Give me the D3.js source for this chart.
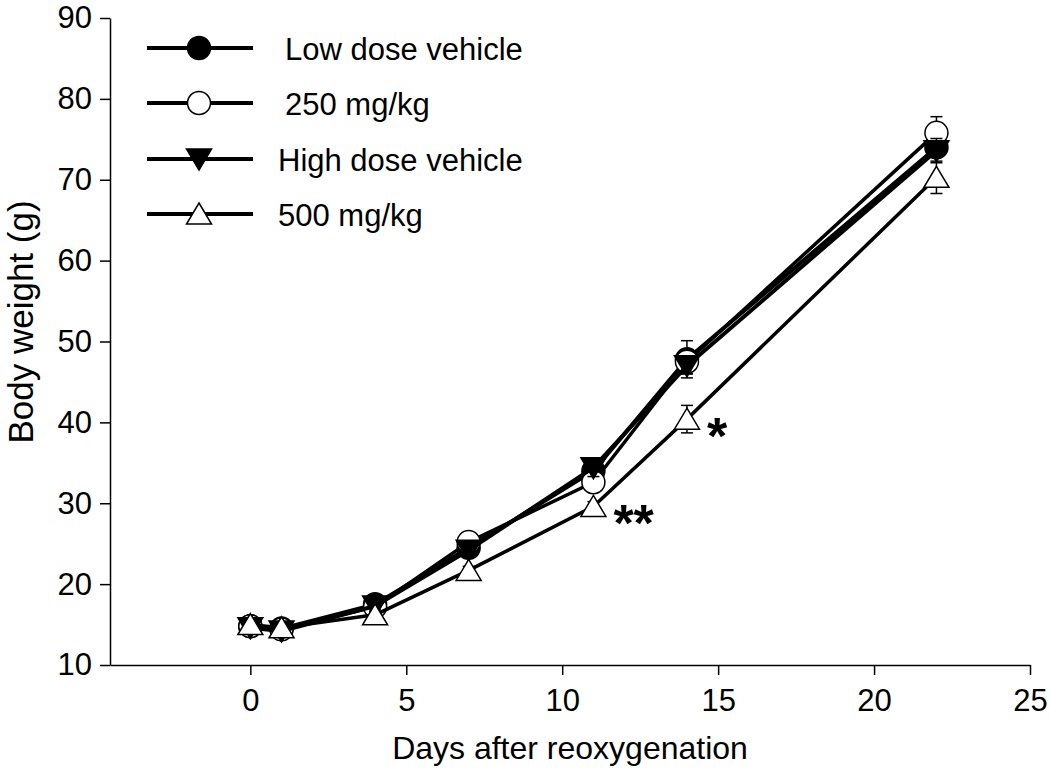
<!DOCTYPE html>
<html>
<head>
<meta charset="utf-8">
<script src="https://cdn.jsdelivr.net/npm/d3@7"></script>
<style>
  html, body { margin: 0; padding: 0; background: #fff; }
  svg { display: block; font-family: "Liberation Sans", Arial, Helvetica, sans-serif; }
</style>
</head>
<body>
<svg id="chart" width="1050" height="774"></svg>
<script>
// ---- data ----
const days = [0, 1, 4, 7, 11, 14, 22];
const seriesNames = ["Low dose vehicle", "250 mg/kg", "High dose vehicle", "500 mg/kg"];
const lowDose     = [14.8, 14.5, 17.5, 24.5, 34.0, 47.8, 74.0];
const lowDoseErr  = [0.5, 0.4, 0.5, 0.6, 0.9, 2.3, 1.0];
const mg250       = [14.8, 14.4, 17.2, 25.2, 32.6, 47.5, 75.8];
const mg250Err    = [0.5, 0.4, 0.5, 0.6, 0.8, 1.5, 2.0];
const highDose    = [14.6, 14.2, 17.3, 24.2, 34.4, 47.0, 73.6];
const highDoseErr = [0.5, 0.4, 0.5, 0.6, 1.1, 1.0, 1.5];
const mg500       = [15.0, 14.6, 16.2, 21.7, 29.6, 40.4, 70.3];
const mg500Err    = [0.5, 0.4, 0.4, 0.5, 0.6, 1.7, 2.0];
const xTicks = [0, 5, 10, 15, 20, 25];
const yTicks = [10, 20, 30, 40, 50, 60, 70, 80, 90];
const annDays = [11, 14];
const annValues = [29.6, 40.4];
const annTexts = ["**", "*"];

// ---- styles ----
const series = [
  {name: seriesNames[0], values: lowDose,  err: lowDoseErr,  symbol: "circle",  fill: "#000", lw: 4},
  {name: seriesNames[1], values: mg250,    err: mg250Err,    symbol: "circle",  fill: "#fff", lw: 3.5},
  {name: seriesNames[2], values: highDose, err: highDoseErr, symbol: "tridown", fill: "#000", lw: 4},
  {name: seriesNames[3], values: mg500,    err: mg500Err,    symbol: "triup",   fill: "#fff", lw: 3.5}
];

const svg = d3.select("#chart");
const x = d3.scaleLinear().domain([-4.5, 25]).range([110, 1030]);
const y = d3.scaleLinear().domain([10, 90]).range([665, 18]);

function symbolPath(type) {
  const p = d3.path();
  if (type === "circle") {
    p.arc(0, 0, 11.5, 0, 2 * Math.PI);
  } else if (type === "triup") {
    p.moveTo(0, -11); p.lineTo(12.5, 10); p.lineTo(-12.5, 10); p.closePath();
  } else {
    p.moveTo(0, 11); p.lineTo(12.5, -10); p.lineTo(-12.5, -10); p.closePath();
  }
  return p.toString();
}

// axes
const yAxis = d3.axisLeft(y).tickValues(yTicks).tickSize(10).tickPadding(8).tickSizeOuter(0);
const xAxis = d3.axisBottom(x).tickValues(xTicks).tickSize(10).tickPadding(14).tickSizeOuter(0);

const gy = svg.append("g").attr("transform", `translate(${x(-4.5)},0)`).call(yAxis);
const gx = svg.append("g").attr("transform", `translate(0,${y(10)})`).call(xAxis);
[gx, gy].forEach(g => {
  g.selectAll("path.domain").attr("stroke", "#000").attr("stroke-width", 1.5);
  g.selectAll(".tick line").attr("stroke", "#000").attr("stroke-width", 1.5);
  g.selectAll(".tick text").attr("font-size", 31).attr("fill", "#000")
    .attr("font-family", '"Liberation Sans", Arial, sans-serif');
});

// axis titles
svg.append("text").attr("x", (x(-4.5) + x(25)) / 2).attr("y", 759)
  .attr("text-anchor", "middle").attr("font-size", 32).text("Days after reoxygenation");
svg.append("text").attr("transform", `translate(33,322) rotate(-90)`)
  .attr("text-anchor", "middle").attr("font-size", 35).text("Body weight (g)");

// series
const line = d3.line().x(d => x(d[0])).y(d => y(d[1]));
series.forEach(s => {
  const g = svg.append("g");
  const pts = days.map((d, i) => [d, s.values[i], s.err[i]]);
  g.append("path").datum(pts).attr("d", line).attr("fill", "none")
    .attr("stroke", "#000").attr("stroke-width", s.lw).attr("stroke-linejoin", "round");
  // error bars
  const eb = g.selectAll("g.eb").data(pts).join("g");
  eb.append("line").attr("x1", d => x(d[0])).attr("x2", d => x(d[0]))
    .attr("y1", d => y(d[1] - d[2])).attr("y2", d => y(d[1] + d[2]))
    .attr("stroke", "#000").attr("stroke-width", 1.5);
  [-1, 1].forEach(sg => {
    eb.append("line").attr("x1", d => x(d[0]) - 6).attr("x2", d => x(d[0]) + 6)
      .attr("y1", d => y(d[1] + sg * d[2])).attr("y2", d => y(d[1] + sg * d[2]))
      .attr("stroke", "#000").attr("stroke-width", 1.5);
  });
  g.selectAll("path.sym").data(pts).join("path").attr("class", "sym")
    .attr("d", symbolPath(s.symbol))
    .attr("transform", d => `translate(${x(d[0])},${y(d[1])})`)
    .attr("fill", s.fill).attr("stroke", "#000").attr("stroke-width", 1.5);
});

// significance annotations
const annotations = annDays.map((d, i) => ({day: d, value: annValues[i], text: annTexts[i]}));
svg.selectAll("text.ann").data(annotations).join("text").attr("class", "ann")
  .attr("x", d => x(d.day) + 20).attr("y", d => y(d.value) + 35)
  .attr("font-size", 52).attr("font-weight", "bold").text(d => d.text);

// legend
const legRows = [48, 103, 159, 214];
const legTextX = [285, 285, 278, 278];
const leg = svg.append("g");
series.forEach((s, i) => {
  const ry = legRows[i];
  leg.append("line").attr("x1", 147).attr("x2", 253).attr("y1", ry).attr("y2", ry)
    .attr("stroke", "#000").attr("stroke-width", 4);
  leg.append("path").attr("d", symbolPath(s.symbol)).attr("transform", `translate(199,${ry})`)
    .attr("fill", s.fill).attr("stroke", "#000").attr("stroke-width", 1.5);
  leg.append("text").attr("x", legTextX[i]).attr("y", ry + 12).attr("font-size", 31).text(s.name);
});
</script>
</body>
</html>
